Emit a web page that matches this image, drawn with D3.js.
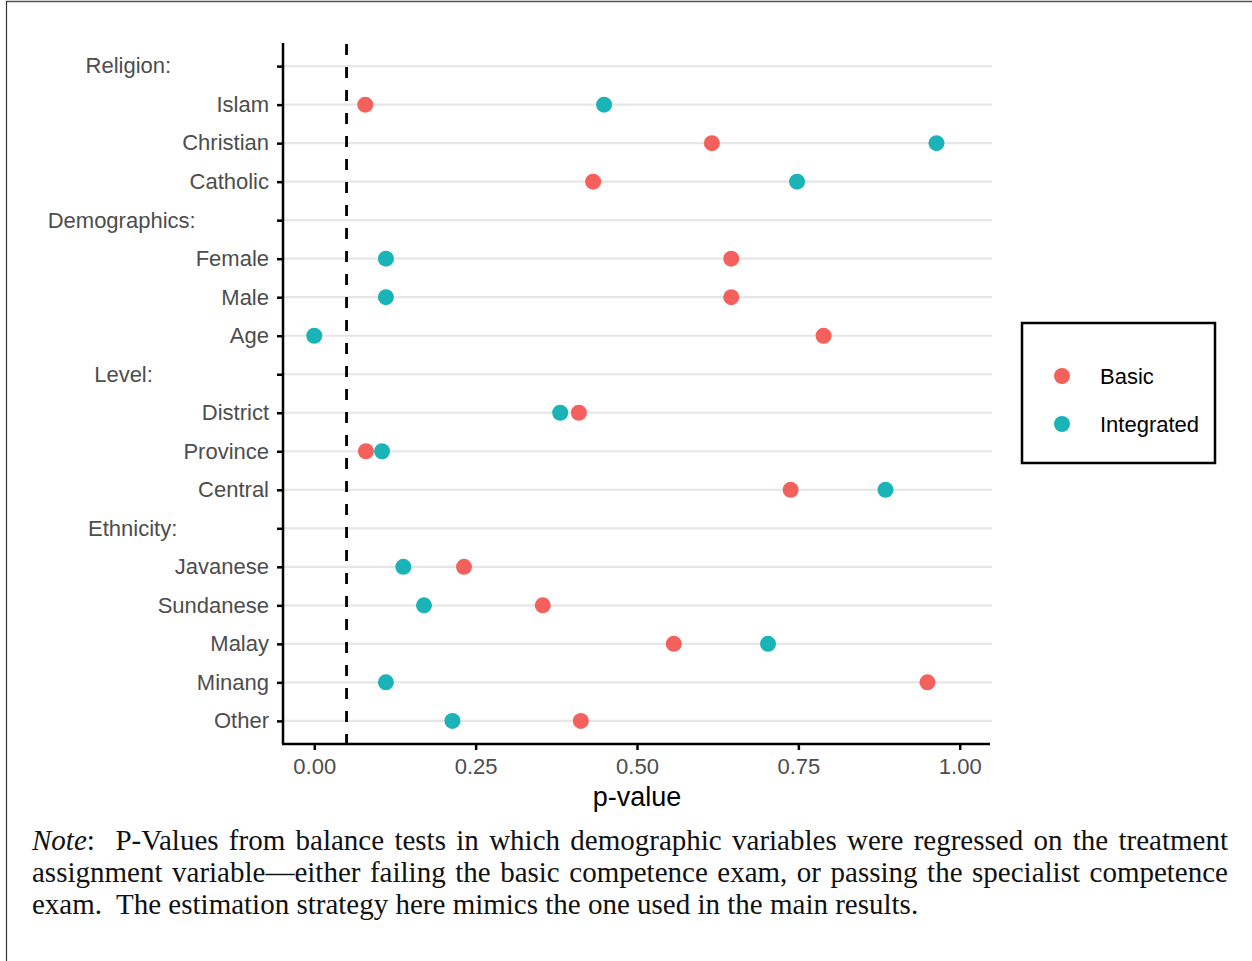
<!DOCTYPE html>
<html lang="en">
    <head>
        <meta charset="utf-8">
        <title>Balance tests</title>
        <script src="https://cdn.jsdelivr.net/npm/d3@7/dist/d3.min.js"></script>
        <style type="text/css">
            body { margin: 0; background: white; }
            .axis text {
                font-family: "Liberation Sans", Arial, sans-serif;
                font-size: 22px;
                fill: #4d4d4d;
            }
            .axis path, .axis line {
                stroke: black;
                stroke-width: 2.5px;
            }
        </style>
    </head>
    <body>
        <script type="text/javascript">
            // row labels, top to bottom (headers have trailing spaces like the original)
            const rows = ["Religion:", "Islam", "Christian", "Catholic",
                          "Demographics:", "Female", "Male", "Age",
                          "Level:", "District", "Province", "Central",
                          "Ethnicity:", "Javanese", "Sundanese", "Malay", "Minang", "Other"]
            const headerPad = { "Religion:": 16, "Demographics:": 12, "Level:": 19, "Ethnicity:": 15 }

            const varNames = ["Islam", "Christian", "Catholic", "Female", "Male", "Age",
                              "District", "Province", "Central",
                              "Javanese", "Sundanese", "Malay", "Minang", "Other"]
            const basic      = [0.079, 0.616, 0.432, 0.646, 0.646, 0.789, 0.410, 0.080, 0.738, 0.232, 0.354, 0.557, 0.950, 0.413]
            const integrated = [0.449, 0.964, 0.748, 0.111, 0.111, 0.000, 0.381, 0.105, 0.885, 0.138, 0.170, 0.703, 0.111, 0.214]
            const xTicks = [0, 0.25, 0.5, 0.75, 1]
            const cutoff = 0.05
            const groups = ["Basic", "Integrated"]
            const colors = ["#f4615c", "#19b3b8"]

            const w = 1252
            const h = 961

            const svg = d3.select("body")
                            .append("svg")
                            .attr("width", w)
                            .attr("height", h)

            // page frame (only top and left edges visible)
            svg.append("line").attr("x1", 6).attr("x2", w).attr("y1", 1.5).attr("y2", 1.5)
                .attr("stroke", "#555").attr("stroke-width", 1.5)
            svg.append("line").attr("x1", 6.5).attr("x2", 6.5).attr("y1", 1).attr("y2", h)
                .attr("stroke", "#333").attr("stroke-width", 1.2)

            const xScale = d3.scaleLinear()
                            .domain([-0.05, 1.05])
                            .range([282, 992])

            const yScale = d3.scalePoint()
                            .domain(rows)
                            .range([43, 744])
                            .padding(0.6)

            // grid lines
            svg.append("g")
                .selectAll("line")
                .data(rows)
                .enter()
                .append("line")
                .attr("x1", xScale.range()[0])
                .attr("x2", xScale.range()[1])
                .attr("y1", d => yScale(d))
                .attr("y2", d => yScale(d))
                .attr("stroke", "#e6e6e6")
                .attr("stroke-width", 2.2)

            // cutoff line
            svg.append("line")
                .attr("x1", xScale(cutoff)).attr("x2", xScale(cutoff))
                .attr("y1", 44).attr("y2", 744)
                .attr("stroke", "black")
                .attr("stroke-width", 2.8)
                .attr("stroke-dasharray", "11,12")

            // axes
            const yAxis = d3.axisLeft(yScale)
                            .tickSize(6)
                            .tickPadding(8)
                            .tickFormat(d => headerPad[d] ? d + "\u00a0".repeat(headerPad[d]) : d)
            const gy = svg.append("g")
                .attr("class", "axis")
                .attr("transform", `translate(${xScale.range()[0] + 1}, 0)`)
                .call(yAxis)
            gy.select(".domain").attr("d", `M0,${yScale.range()[0]}V${yScale.range()[1]}`)
            gy.selectAll("text").attr("dy", "0.31em").style("white-space", "pre")

            const xAxis = d3.axisBottom(xScale)
                            .tickValues(xTicks)
                            .tickSize(6)
                            .tickPadding(8)
                            .tickFormat(d3.format(".2f"))
            const gx = svg.append("g")
                .attr("class", "axis")
                .attr("transform", `translate(0, ${yScale.range()[1]})`)
                .call(xAxis)
            gx.select(".domain").attr("d", `M${xScale.range()[0]},0H${xScale.range()[1] - 2}`)

            svg.append("text")
                .attr("x", (xScale(0) + xScale(1)) / 2)
                .attr("y", 806)
                .attr("text-anchor", "middle")
                .attr("font-family", "Liberation Sans, Arial, sans-serif")
                .attr("font-size", 27)
                .attr("fill", "black")
                .text("p-value")

            // points
            const points = []
            varNames.forEach((v, i) => {
                points.push({ v: v, g: 0, p: basic[i] })
                points.push({ v: v, g: 1, p: integrated[i] })
            })
            svg.append("g")
                .selectAll("circle")
                .data(points)
                .enter()
                .append("circle")
                .attr("cx", d => xScale(d.p))
                .attr("cy", d => yScale(d.v))
                .attr("r", 8)
                .attr("fill", d => colors[d.g])

            // legend
            const legend = svg.append("g").attr("transform", "translate(1022, 323)")
            legend.append("rect")
                .attr("width", 193).attr("height", 140)
                .attr("fill", "white").attr("stroke", "black").attr("stroke-width", 2.5)
            const items = legend.selectAll("g.item")
                .data(groups)
                .enter()
                .append("g")
                .attr("class", "item")
                .attr("transform", (_, i) => `translate(0, ${53 + i * 48})`)
            items.append("circle").attr("cx", 40).attr("r", 8).attr("fill", (_, i) => colors[i])
            items.append("text")
                .attr("x", 78).attr("dy", "0.36em")
                .attr("font-family", "Liberation Sans, Arial, sans-serif")
                .attr("font-size", 22)
                .text(d => d)

            // note below the chart, justified like the LaTeX caption
            const noteLines = [
                ["Note", ":  P-Values from balance tests in which demographic variables were regressed on the treatment"],
                ["", "assignment variable\u2014either failing the basic competence exam, or passing the specialist competence"],
                ["", "exam.  The estimation strategy here mimics the one used in the main results."]
            ]
            const note = svg.append("g")
                .attr("font-family", "Liberation Serif, Times New Roman, serif")
                .attr("font-size", 29)
                .attr("fill", "#111")
            noteLines.forEach((ln, i) => {
                const t = note.append("text")
                    .attr("x", 32)
                    .attr("y", 850 + i * 32)
                    .style("white-space", "pre")
                if (ln[0]) t.append("tspan").attr("font-style", "italic").text(ln[0])
                t.append("tspan").text(ln[1])
                if (i < 2) {
                    const natural = t.node().getComputedTextLength()
                    const spaces = (ln[1].match(/ /g) || []).length
                    t.attr("word-spacing", (1196 - natural) / spaces)
                }
            })
        </script>
    </body>
</html>
